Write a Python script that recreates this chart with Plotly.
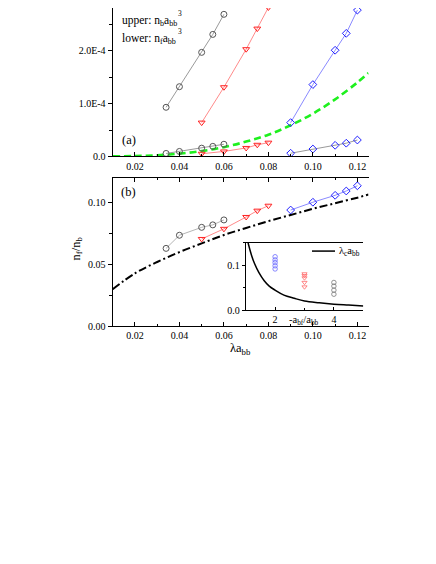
import plotly.graph_objects as go

W, H = 436, 564

# ---------------- data ----------------
lam_gray = [0.034, 0.04, 0.05, 0.055, 0.06]
lam_red = [0.05, 0.06, 0.07, 0.075, 0.08]
lam_blue = [0.09, 0.10, 0.11, 0.115, 0.12]

# panel (a): densities
nb_gray = [0.93e-4, 1.32e-4, 1.97e-4, 2.31e-4, 2.69e-4]
nb_red = [0.64e-4, 1.31e-4, 2.03e-4, 2.42e-4, 2.82e-4]
nb_blue = [0.64e-4, 1.36e-4, 2.01e-4, 2.33e-4, 2.77e-4]
nf_gray = [0.056e-4, 0.094e-4, 0.156e-4, 0.19e-4, 0.23e-4]
nf_red = [0.05e-4, 0.094e-4, 0.16e-4, 0.22e-4, 0.26e-4]
nf_blue = [0.06e-4, 0.14e-4, 0.21e-4, 0.25e-4, 0.31e-4]

green_x = [0.01, 0.02, 0.03, 0.04, 0.05, 0.06, 0.07, 0.08, 0.09, 0.10, 0.11, 0.12, 0.125]
green_y = [0.001e-4, 0.006e-4, 0.022e-4, 0.052e-4, 0.10e-4, 0.175e-4, 0.28e-4,
           0.41e-4, 0.59e-4, 0.81e-4, 1.08e-4, 1.40e-4, 1.58e-4]

# panel (b): ratio n_f/n_b
r_gray = [0.063, 0.0736, 0.080, 0.082, 0.086]
r_red = [0.0706, 0.0788, 0.0884, 0.0935, 0.0975]
r_blue = [0.094, 0.1003, 0.1059, 0.1094, 0.1136]

dd_x = [0.01, 0.02, 0.03, 0.04, 0.05, 0.06, 0.07, 0.08, 0.09, 0.10, 0.11, 0.12, 0.125]
dd_y = [0.030, 0.0428, 0.052, 0.060, 0.067, 0.0738, 0.0795, 0.085, 0.090,
        0.095, 0.0995, 0.104, 0.1065]

# inset
ins_curve_x = [1.05, 1.1, 1.2, 1.3, 1.45, 1.63, 1.8, 2.0, 2.3, 2.65, 3.0, 3.5, 4.0, 4.5, 5.0]
ins_curve_y = [0.16, 0.145, 0.122, 0.104, 0.084, 0.066, 0.054, 0.045, 0.034, 0.027,
               0.021, 0.017, 0.014, 0.012, 0.010]
ins_blue_x = [2, 2, 2, 2, 2]
ins_blue_y = [0.092, 0.099, 0.106, 0.112, 0.119]
ins_red_x = [3, 3, 3, 3, 3]
ins_red_y = [0.052, 0.062, 0.072, 0.077, 0.081]
ins_gray_x = [4, 4, 4, 4]
ins_gray_y = [0.036, 0.045, 0.054, 0.062]

# ---------------- styles ----------------
GRAY_M, GRAY_L = "#555555", "#9a9a9a"
RED_M, RED_L = "#ff2020", "#ff8a8a"
BLUE_M, BLUE_L = "#2020ff", "#8a8aff"
FONT = "Liberation Serif, Times New Roman, serif"


def px(x):
    return x / W


def py(y):
    return 1 - y / H


fig = go.Figure()


def series(x, y, msym, mcol, lcol, xa, ya, size=6):
    fig.add_trace(go.Scatter(
        x=x, y=y, xaxis=xa, yaxis=ya, mode="lines+markers",
        line=dict(color=lcol, width=1),
        marker=dict(symbol=msym, size=size, color=mcol,
                    line=dict(color=mcol, width=1)),
        showlegend=False))


# panel (a)
fig.add_trace(go.Scatter(x=green_x, y=green_y, xaxis="x", yaxis="y", mode="lines",
                         line=dict(color="#1ef01e", width=2.6, dash="7px,4px", shape="spline"),
                         showlegend=False))
series(lam_gray, nb_gray, "circle-open", GRAY_M, GRAY_L, "x", "y")
series(lam_red, nb_red, "triangle-down-open", RED_M, RED_L, "x", "y")
series(lam_blue, nb_blue, "diamond-open", BLUE_M, BLUE_L, "x", "y")
series(lam_gray, nf_gray, "circle-open", GRAY_M, GRAY_L, "x", "y")
series(lam_red, nf_red, "triangle-down-open", RED_M, RED_L, "x", "y")
series(lam_blue, nf_blue, "diamond-open", BLUE_M, GRAY_L, "x", "y")

# panel (b)
fig.add_trace(go.Scatter(x=dd_x, y=dd_y, xaxis="x2", yaxis="y3", mode="lines",
                         line=dict(color="black", width=2, dash="8px,3px,2px,3px", shape="spline"),
                         showlegend=False))
series(lam_gray, r_gray, "circle-open", GRAY_M, "#b5b5b5", "x2", "y3")
series(lam_red, r_red, "triangle-down-open", RED_M, RED_L, "x2", "y3")
series(lam_blue, r_blue, "diamond-open", BLUE_M, BLUE_L, "x2", "y3")

# inset
fig.add_trace(go.Scatter(x=ins_curve_x, y=ins_curve_y, xaxis="x3", yaxis="y5", mode="lines",
                         line=dict(color="black", width=1.5, shape="spline"), showlegend=False))
for xs, ys, sym, col in [(ins_blue_x, ins_blue_y, "circle-open", "#6a6aff"),
                         (ins_red_x, ins_red_y, "triangle-down-open", "#ff6a6a"),
                         (ins_gray_x, ins_gray_y, "circle-open", "#777777")]:
    fig.add_trace(go.Scatter(x=xs, y=ys, xaxis="x3", yaxis="y5", mode="markers",
                             marker=dict(symbol=sym, size=4.5, color=col,
                                         line=dict(color=col, width=0.8)),
                             showlegend=False))

XDOM = [px(104.7), px(360.5)]
TOPDOM = [py(150), 1.0]
BOTDOM = [py(321.7), py(171.7)]
INSX = [px(237.7), px(355.3)]
INSY = [py(305.7), py(237.3)]

tickfont = dict(family=FONT, size=10, color="black")
axbase = dict(showline=True, linecolor="black", linewidth=1.2, showgrid=False,
              zeroline=False, ticklen=4, tickwidth=1, tickcolor="black",
              tickfont=tickfont)

fig.update_layout(
    width=W, height=H, margin=dict(l=0, r=0, t=0, b=0),
    paper_bgcolor="white", plot_bgcolor="rgba(0,0,0,0)",
    font=dict(family=FONT, color="black"),
    xaxis=dict(axbase, domain=XDOM, anchor="y", range=[0.01, 0.125], ticks="inside",
               tickvals=[0.02, 0.04, 0.06, 0.08, 0.10, 0.12], tickformat=".2f",
               minor=dict(dtick=0.01, tick0=0, ticks="inside", ticklen=2.5, tickcolor="black")),
    yaxis=dict(axbase, domain=TOPDOM, anchor="x", range=[0, 2.81e-4], ticks="outside",
               tickvals=[0, 1e-4, 2e-4], ticktext=["0.0", "1.0E-4", "2.0E-4"],
               minor=dict(dtick=0.5e-4, tick0=0, ticks="outside", ticklen=2.5, tickcolor="black")),
    yaxis2=dict(axbase, overlaying="y", side="right", anchor="x", range=[0, 2.81e-4],
                ticks="inside", showticklabels=False, tickvals=[0, 1e-4, 2e-4],
                minor=dict(dtick=0.5e-4, tick0=0, ticks="inside", ticklen=2.5, tickcolor="black")),
    xaxis2=dict(axbase, domain=XDOM, anchor="y3", range=[0.01, 0.125], ticks="inside",
                mirror="ticks",
                tickvals=[0.02, 0.04, 0.06, 0.08, 0.10, 0.12], tickformat=".2f",
                minor=dict(dtick=0.01, tick0=0, ticks="inside", ticklen=2.5, tickcolor="black")),
    yaxis3=dict(axbase, domain=BOTDOM, anchor="x2", range=[0, 0.12], ticks="outside",
                tickvals=[0, 0.05, 0.10], tickformat=".2f",
                minor=dict(dtick=0.025, tick0=0, ticks="outside", ticklen=2.5, tickcolor="black")),
    yaxis4=dict(axbase, overlaying="y3", side="right", anchor="x2", range=[0, 0.12],
                ticks="inside", showticklabels=False, tickvals=[0, 0.05, 0.10],
                minor=dict(dtick=0.025, tick0=0, ticks="inside", ticklen=2.5, tickcolor="black")),
    xaxis3=dict(axbase, domain=INSX, anchor="y5", range=[1, 5], ticks="inside",
                mirror=True, tickvals=[2, 4], linewidth=1, ticklen=3,
                minor=dict(dtick=1, tick0=0, ticks="inside", ticklen=2, tickcolor="black")),
    yaxis5=dict(axbase, domain=INSY, anchor="x3", range=[0, 0.15], ticks="outside",
                tickvals=[0, 0.1], tickformat=".1f", linewidth=1, ticklen=3,
                minor=dict(dtick=0.05, tick0=0, ticks="outside", ticklen=2, tickcolor="black")),
    yaxis6=dict(axbase, overlaying="y5", side="right", anchor="x3", range=[0, 0.15],
                ticks="inside", showticklabels=False, tickvals=[0, 0.1], linewidth=1, ticklen=3,
                minor=dict(dtick=0.05, tick0=0, ticks="inside", ticklen=2, tickcolor="black")),
)

# white background for inset
fig.add_shape(type="rect", xref="paper", yref="paper", x0=INSX[0], x1=INSX[1],
              y0=INSY[0], y1=INSY[1], fillcolor="white", line=dict(width=0), layer="below")
# inset legend line
fig.add_shape(type="line", xref="paper", yref="paper", x0=px(304), x1=px(327),
              y0=py(245.7), y1=py(245.7), line=dict(color="black", width=1.5))


def ann(text, x, y, size=11, xanchor="center", angle=0):
    fig.add_annotation(text=text, x=px(x), y=py(y), xref="paper", yref="paper",
                       showarrow=False, xanchor=xanchor, yanchor="middle",
                       textangle=angle, font=dict(family=FONT, size=size, color="black"))


ann("upper: n<sub>b</sub>a<sub>bb</sub>", 112, 13, 11.5, "left")
ann("3", 172, 5.5, 7.5, "center")
ann("lower: n<sub>f</sub>a<sub>bb</sub>", 112, 31, 11.5, "left")
ann("3", 172, 24, 7.5, "center")
ann("(a)", 112, 133, 12.5, "left")
ann("(b)", 111, 186, 12.5, "left")
ann("n<sub>f</sub>/n<sub>b</sub>", 69, 243, 12.5, "center", -90)
ann("λa<sub>bb</sub>", 233, 345, 12.5, "center")
ann("-a<sub>bf</sub>/a<sub>bb</sub>", 296, 316, 10.5, "center")
ann("λ<sub>c</sub>a<sub>bb</sub>", 329, 246, 10.5, "left")

fig.write_html("out.html")
